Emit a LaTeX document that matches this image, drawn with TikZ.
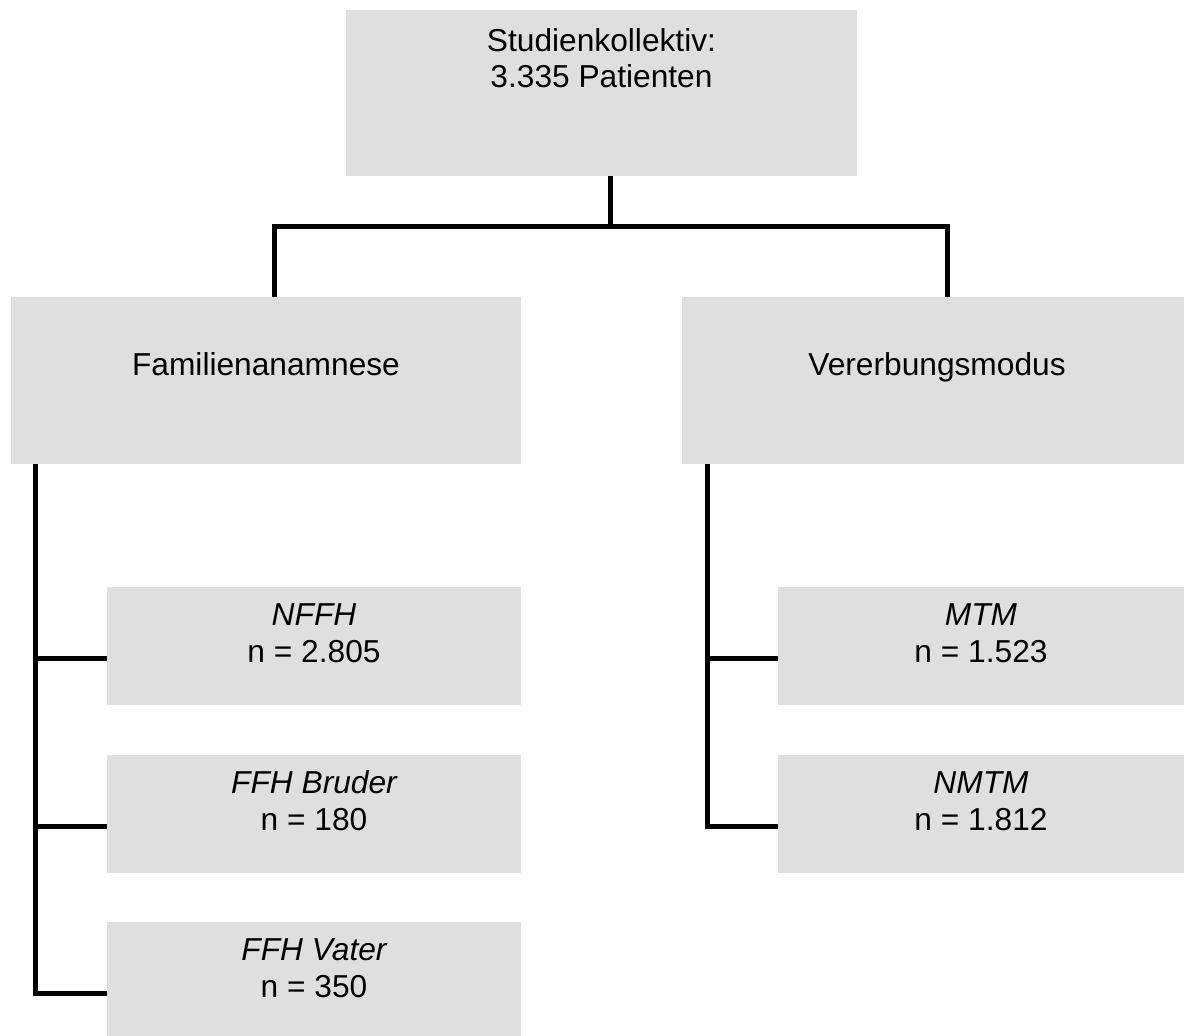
\documentclass[tikz,border=0pt]{standalone}
\usepackage{fontspec}
\setmainfont{Liberation Sans}
\definecolor{boxgray}{RGB}{223,223,223}
\begin{document}
\begin{tikzpicture}[x=1pt,y=-1pt,
  box/.style={rectangle, fill=boxgray, draw=none, inner sep=0pt, anchor=north west},
  txt/.style={anchor=base, inner sep=0pt, font=\fontsize{31.7}{37}\selectfont},
  itxt/.style={txt, font=\fontsize{31.7}{37}\selectfont\itshape},
  conn/.style={draw=black, line width=5pt}]
\useasboundingbox (0,0) rectangle (1184,1036);
% boxes
\node[box, minimum width=511pt, minimum height=166pt] (top) at (346,10) {};
\node[box, minimum width=510pt, minimum height=167pt] (fam) at (11,297) {};
\node[box, minimum width=502pt, minimum height=167pt] (ver) at (682,297) {};
\node[box, minimum width=414pt, minimum height=118pt] (nffh) at (107,587) {};
\node[box, minimum width=414pt, minimum height=118pt] (bruder) at (107,755) {};
\node[box, minimum width=414pt, minimum height=118pt] (vater) at (107,922) {};
\node[box, minimum width=406pt, minimum height=118pt] (mtm) at (778,587) {};
\node[box, minimum width=406pt, minimum height=118pt] (nmtm) at (778,755) {};
% texts
\node[txt] (t1) at (601.5,51) {Studienkollektiv:};
\node[txt] (t2) at (601.5,87) {3.335 Patienten};
\node[txt] (t3) at (266,375) {Familienanamnese};
\node[txt] (t4) at (937,375) {Vererbungsmodus};
\node[itxt] (t5) at (314,625) {NFFH};
\node[txt] (t6) at (314,662) {n = 2.805};
\node[itxt] (t7) at (314,793) {FFH Bruder};
\node[txt] (t8) at (314,830) {n = 180};
\node[itxt] (t9) at (314,960) {FFH Vater};
\node[txt] (t10) at (314,997) {n = 350};
\node[itxt] (t11) at (981,625) {MTM};
\node[txt] (t12) at (981,662) {n = 1.523};
\node[itxt] (t13) at (981,793) {NMTM};
\node[txt] (t14) at (981,830) {n = 1.812};
% connectors
\coordinate (hub) at (610,226);
\coordinate (hl) at (274,226);
\coordinate (hr) at (947,226);
\draw[conn] (hub |- top.south) -- (hub);
\draw[conn] (hl |- fam.north) -- (hl) -- (hr) -- (hr |- ver.north);
\coordinate (L0) at (35,464);
\coordinate (L1) at (35,658);
\coordinate (L2) at (35,826);
\coordinate (L3) at (35,993);
\draw[conn] (L0 |- fam.south) -- (L3) -- (L3 -| vater.west);
\draw[conn] (L1) -- (L1 -| nffh.west);
\draw[conn] (L2) -- (L2 -| bruder.west);
\coordinate (R0) at (707,464);
\coordinate (R1) at (707,658);
\coordinate (R2) at (707,826);
\draw[conn] (R0 |- ver.south) -- (R2) -- (R2 -| nmtm.west);
\draw[conn] (R1) -- (R1 -| mtm.west);
\end{tikzpicture}
\end{document}
